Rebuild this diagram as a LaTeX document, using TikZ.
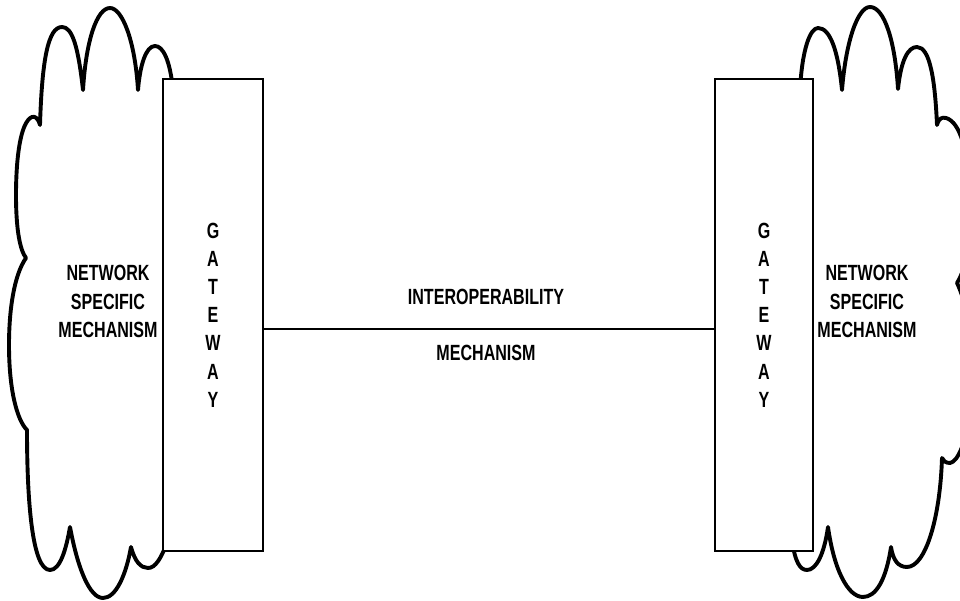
\documentclass[tikz,border=0pt]{standalone}
\usepackage{fontspec}
\newfontfamily\lbl[FakeStretch=0.73]{Liberation Sans}
\begin{document}
\begin{tikzpicture}[x=1pt,y=-1pt,
  cloudline/.style={line width=3.9pt, line join=round, line cap=round},
  gw/.style={draw, line width=1.5pt, fill=white, minimum width=100pt, minimum height=472pt, inner sep=0pt, align=center, font=\lbl\bfseries\fontsize{22}{28.2}\selectfont},
  lab/.style={align=center, inner sep=0pt, font=\lbl\bfseries\fontsize{22}{28.25}\selectfont},
  link/.style={line width=1.5pt}]
\useasboundingbox (0,0) rectangle (960,601);
\clip (0,0) rectangle (960,601);
% left cloud
\draw[cloudline] (173,90) .. controls (170,60) and (163,46) .. (155,46)
  .. controls (146,46) and (140,65) .. (138,90)
  .. controls (135,40) and (122,8) .. (110,8)
  .. controls (97,8) and (86,40) .. (83,90)
  .. controls (78,45) and (72,27) .. (62,27)
  .. controls (48,27) and (42,60) .. (40,125)
  .. controls (38,118) and (35,116) .. (32,117)
  .. controls (20,122) and (16,160) .. (16,195)
  .. controls (16,230) and (20,250) .. (26,258)
  .. controls (14,275) and (9,310) .. (9,345)
  .. controls (9,390) and (17,420) .. (27,430)
  .. controls (27,500) and (32,570) .. (50,570)
  .. controls (60,570) and (66,550) .. (70,527)
  .. controls (78,570) and (90,598) .. (103,598)
  .. controls (116,598) and (126,575) .. (131,547)
  .. controls (135,562) and (141,568) .. (148,568)
  .. controls (155,568) and (161,560) .. (170,535);
% right cloud
\draw[cloudline] (800,90) .. controls (802,50) and (810,28) .. (818,28)
  .. controls (830,28) and (838,50) .. (842,90)
  .. controls (846,40) and (858,7) .. (870,7)
  .. controls (884,7) and (895,40) .. (898,89)
  .. controls (901,60) and (908,47) .. (917,47)
  .. controls (930,47) and (935,80) .. (937,125)
  .. controls (939,118) and (942,117) .. (946,118)
  .. controls (960,122) and (968,150) .. (972,200)
  .. controls (974,240) and (965,270) .. (957,283)
  .. controls (970,310) and (976,360) .. (970,410)
  .. controls (967,440) and (958,462) .. (950,463)
  .. controls (946,463) and (943,461) .. (942,458)
  .. controls (940,520) and (925,567) .. (907,567)
  .. controls (898,567) and (893,560) .. (891,547)
  .. controls (886,580) and (876,597) .. (863,597)
  .. controls (848,597) and (834,570) .. (828,527)
  .. controls (824,555) and (816,570) .. (807,570)
  .. controls (800,570) and (795,562) .. (792,540);
% gateways
\node[gw] (lgw) at (213,315) {G\\A\\T\\E\\W\\A\\Y};
\node[gw, minimum width=98pt] (rgw) at (764,315) {G\\A\\T\\E\\W\\A\\Y};
% labels
\node[lab] (lnet) at (108,301.5) {NETWORK\\SPECIFIC\\MECHANISM};
\node[lab] (rnet) at (867,301.5) {NETWORK\\SPECIFIC\\MECHANISM};
\node[lab] (interop) at (486,297) {INTEROPERABILITY};
\node[lab] (mech) at (486,353) {MECHANISM};
% link
\draw[link] ([yshift=-14pt]lgw.east) -- ([yshift=-14pt]rgw.west);
\end{tikzpicture}
\end{document}
